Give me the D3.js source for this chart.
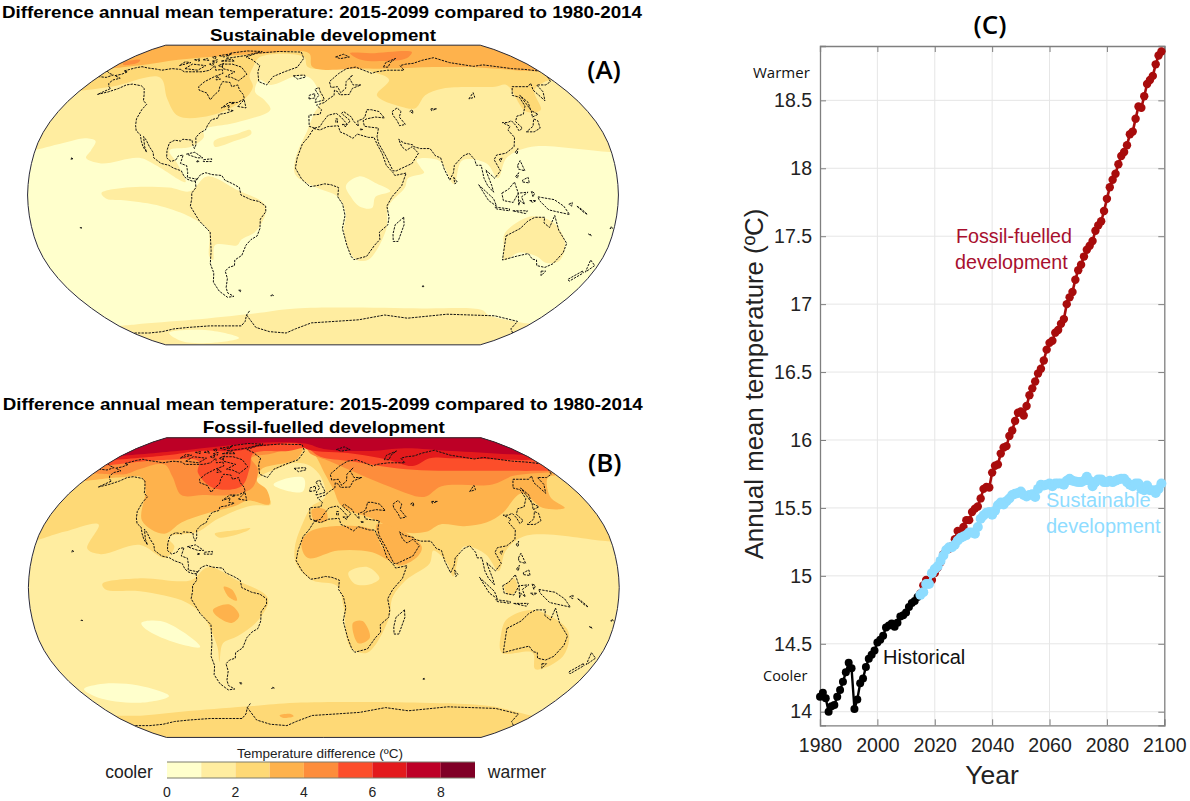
<!DOCTYPE html>
<html>
<head>
<meta charset="utf-8">
<script src="https://cdn.jsdelivr.net/npm/d3@7"></script>
<style>
  html, body { margin: 0; background: #fff; }
  text { font-family: "Liberation Sans", Arial, sans-serif; }
  .calibri { font-family: "Open Sans", sans-serif; }
</style>
</head>
<body>
<div id="chart"></div>
<script>
// ---- chart (C) series, one value per year ----
const historicalStart = 1980;
const historicalTemp = [14.11, 14.14, 14.1, 14.0, 14.04, 14.05, 14.11, 14.16, 14.22, 14.29, 14.36, 14.32, 14.02, 14.09, 14.21, 14.245, 14.33, 14.39, 14.42, 14.45, 14.51, 14.53, 14.56, 14.62, 14.635, 14.65, 14.625, 14.655, 14.7, 14.71, 14.73, 14.77, 14.8, 14.815, 14.845];
const scenarioStart = 2015;
const fossilTemp = [14.87, 14.93, 14.97, 14.96, 14.97, 15.02, 15.06, 15.1, 15.16, 15.19, 15.2, 15.22, 15.27, 15.33, 15.32, 15.36, 15.41, 15.41, 15.47, 15.495, 15.51, 15.57, 15.64, 15.655, 15.65, 15.76, 15.81, 15.82, 15.9, 15.945, 15.955, 16.03, 16.07, 16.14, 16.2, 16.21, 16.18, 16.25, 16.33, 16.38, 16.43, 16.49, 16.525, 16.585, 16.665, 16.715, 16.73, 16.79, 16.81, 16.855, 16.89, 17.0, 17.05, 17.09, 17.18, 17.25, 17.29, 17.35, 17.4, 17.43, 17.465, 17.54, 17.58, 17.61, 17.685, 17.775, 17.86, 17.915, 17.96, 18.03, 18.09, 18.12, 18.17, 18.25, 18.27, 18.365, 18.455, 18.445, 18.53, 18.62, 18.65, 18.68, 18.765, 18.83, 18.86];
const sustainableTemp = [14.86, 14.88, 14.94, 14.94, 15.02, 15.05, 15.07, 15.11, 15.15, 15.19, 15.21, 15.21, 15.23, 15.26, 15.28, 15.29, 15.3, 15.32, 15.32, 15.31, 15.36, 15.42, 15.445, 15.465, 15.47, 15.45, 15.48, 15.52, 15.54, 15.525, 15.55, 15.57, 15.595, 15.605, 15.61, 15.62, 15.595, 15.585, 15.595, 15.6, 15.58, 15.64, 15.67, 15.665, 15.67, 15.68, 15.66, 15.68, 15.68, 15.68, 15.67, 15.7, 15.715, 15.7, 15.695, 15.69, 15.69, 15.7, 15.73, 15.7, 15.66, 15.69, 15.71, 15.71, 15.69, 15.69, 15.7, 15.69, 15.7, 15.71, 15.715, 15.715, 15.69, 15.67, 15.66, 15.68, 15.68, 15.64, 15.63, 15.665, 15.63, 15.63, 15.61, 15.64, 15.68];
const yearTicks = [1980, 2000, 2020, 2040, 2060, 2080, 2100];
const tempTicks = [14, 14.5, 15, 15.5, 16, 16.5, 17, 17.5, 18, 18.5];

// ---- temperature classes shared by both maps and the legend ----
const bandColors = ["#ffffcc", "#ffeda0", "#fed976", "#feb24c", "#fd8d3c", "#fc4e2a", "#e31a1c", "#bd0026", "#800026"];
const legendTicks = [0, 2, 4, 6, 8];

// Robinson table, one row per 5 degrees of latitude
const robinsonX = [1, .9986, .9954, .99, .9822, .973, .96, .9427, .9216, .8962, .8679, .835, .7986, .7597, .7186, .6732, .6213, .5722, .5322];
const robinsonY = [0, .062, .124, .186, .248, .31, .372, .434, .4958, .5571, .6176, .6769, .7346, .7903, .8435, .8936, .9394, .9761, 1];

// ---- coastlines, lon/lat ----
const coastNorthAmerica = [[-168,65.6],[-164,66.5],[-162,68],[-166,68.5],[-160,70.5],[-156,71.3],[-150,70.5],[-141,69.7],[-135,69],[-128,70],[-120,69.5],[-115,68],[-108,68],[-100,68],[-95,69],[-94,72],[-90,69],[-85,69.5],[-82,67],[-87,65],[-92,62],[-94,59],[-92,57],[-85,55.3],[-82,53],[-80,51.5],[-79,54],[-77,56.5],[-78,59],[-78,62],[-72,61.5],[-69,59],[-65,60],[-62,57],[-58,54.5],[-56,52],[-60,50],[-66,50],[-70,47],[-65,48.5],[-65,46],[-61,45.5],[-66,44],[-70,43.5],[-70,41.5],[-74,40.5],[-75.5,37.5],[-76,35],[-79,33.5],[-81,31],[-80,27],[-80.5,25],[-82,27],[-83,29.5],[-85,29.7],[-89,30],[-90,29],[-94,29.5],[-97,28],[-97.5,24],[-97,20],[-94,18],[-91,19],[-90,21],[-87,21.5],[-88,17],[-84,15.8],[-83,12],[-83,9.5],[-80,9],[-77,8.5],[-78,7.5],[-80,7.5],[-83,8.5],[-85,10],[-87,13],[-92,14.5],[-95,16],[-100,17],[-105,20],[-106,23],[-109,26],[-112,29.5],[-114.5,31.5],[-112,26],[-110,23],[-113,26],[-115,29],[-117,32.5],[-120.5,34.5],[-122.5,37.5],[-124,41],[-124,46],[-123,49],[-127,51],[-130,54.5],[-134,58],[-138,59.5],[-146,60.5],[-150,60],[-153,58],[-158,56],[-164,54.5],[-159,58],[-162,59],[-165,61],[-165,63],[-161,64],[-168,65.6]];
const coastSouthAmerica = [[-77,8.5],[-75,11],[-72,12],[-68,11],[-62,10.5],[-60,8],[-55,6],[-51,4],[-50,0],[-44,-2.5],[-39,-3.5],[-35,-6],[-35,-9],[-38.5,-13],[-39,-18],[-41,-22],[-45,-24],[-48.5,-27],[-52,-32.5],[-57,-35],[-58,-38],[-62,-39],[-65,-41],[-65,-45],[-68,-50],[-68.5,-53],[-65,-55],[-70,-55.5],[-74,-52],[-75.5,-47],[-73,-42],[-73.5,-37],[-71,-30],[-70,-20],[-76,-14],[-81,-6],[-80,-2],[-80,1],[-77.5,4],[-78,7.5],[-77,8.5]];
const coastAfrica = [[-6,35.8],[-2,35],[3,36.8],[10,37.3],[11,34],[15,32.5],[19,30.5],[22,32.8],[29,31],[32.5,31],[34,27.5],[37,22],[39,16],[43,12],[44,10.5],[51,11.8],[48,5],[42,-1],[39,-6],[40.5,-12],[40,-16],[35,-20],[35.5,-24],[32.5,-27],[28,-33],[20,-34.8],[18,-33],[15,-27],[12,-18],[13.5,-11],[12,-5],[9,-1],[9.5,4],[5,5.5],[1,6],[-4,5],[-8,4.5],[-13,8.5],[-17,14.5],[-16,20],[-13,27.5],[-9.5,31],[-6,35.8]];
const coastEurasia = [[-5.5,36],[-9,37],[-9.5,43],[-2,43.5],[-1,46],[-4.5,48.5],[1,50],[4,52],[8,54],[8.5,57],[11,56],[12,54.3],[19,54.5],[22,58],[29,60],[23,60],[21,64],[24,66],[18,62],[17,58],[13,55.5],[11,59],[6,58.5],[5,62],[13,67],[20,70],[28,71],[40,67],[44,68],[54,69],[68,69],[67,72],[73,73],[80,73.5],[90,75.5],[104,77.5],[113,74],[130,71.5],[140,72.5],[160,70],[170,69.5],[180,68.5]];
const coastEurasiaEast = [[180,65],[177,62],[170,60],[163,60],[162,56],[157,51],[156,57],[160,61],[155,59],[143,59],[137,54],[141,53],[140,48],[135,43.5],[130,42.5],[127,39.5],[129.5,36],[126.5,34.5],[126,37.5],[124.5,40],[121.5,39],[118,39],[122,37],[119.5,35],[122,31],[120,26],[114,22.5],[108,21.5],[106,19],[109,13],[105,9],[100,13.5],[103,5],[104,1.5],[100.5,5],[98.5,9],[97.5,16],[94.5,16],[94,19],[91,22.5],[87,21],[81,16],[80,12],[77.5,8],[74.5,14],[73,20],[70,21],[67,25],[61,25],[57,26],[56.5,27],[51,28],[48,30],[49.5,26],[52,24],[56,26],[59.5,22.5],[55,17],[45,13],[43,13],[39,21],[35,28],[34.5,31.5],[36,36],[31,36.5],[27,37],[26.5,40],[29,41],[35,42],[41,41.5],[38,45],[33,46],[30,46],[28,42],[26,40.8],[23,40],[23,37],[20,40],[19,42],[14,45],[12.5,44],[18,40],[16,38],[12,42],[9,44],[3.5,43],[0,39.5],[-2,36.8],[-5.5,36]];
const coastChukotka = [[-180,68.5],[-175,67],[-170,66],[-173,64.5],[-180,65]];
const coastAntarctica = [[-58,-63.5],[-62,-66],[-66,-70],[-72,-73],[-85,-73],[-100,-73],[-120,-74],[-135,-75],[-150,-77],[-165,-78],[-180,-78]];
const coastAntarcticaEast = [[180,-78],[170,-75],[165,-70],[140,-66.5],[100,-65.5],[70,-68],[50,-66],[30,-69],[10,-70],[-10,-71],[-25,-75],[-35,-78],[-50,-77],[-60,-74],[-62,-66]];
const coastAustralia = [[114,-22],[122,-18],[126,-14],[130,-12],[136,-12],[136,-15],[140,-17.5],[142,-11],[146,-19],[153,-26],[153,-31],[150,-37],[146,-39],[140,-38],[138,-35],[135,-34.5],[131,-31.5],[124,-33],[116,-35],[115,-31],[114,-22]];
const coastIslands = [
  [[-73,78],[-66,81],[-45,82.5],[-22,82],[-18,77],[-22,71],[-32,68],[-40,65],[-43,60],[-50,62],[-54,68],[-55,72],[-65,76],[-73,78]], // Greenland
  [[-80,73],[-70,71],[-62,66.5],[-66,62.5],[-73,64.5],[-78,65],[-73,68],[-85,70],[-89,73],[-80,73]], // Baffin
  [[-117,70],[-105,69],[-102,72],[-115,73],[-117,70]],
  [[-90,77],[-75,79],[-62,82.5],[-78,83],[-92,81],[-90,77]],
  [[-125,72],[-118,74],[-124,74.5],[-125,72]],
  [[-92,75],[-80,75],[-85,76.5],[-92,75]],
  [[-100,75],[-95,74],[-97,76],[-100,75]],
  [[-110,76],[-104,75.5],[-108,77],[-110,76]],
  [[-118,76],[-112,75],[-114,76.5],[-118,76]],
  [[-100,79],[-94,78],[-90,80.5],[-100,79]],
  [[-105,78],[-100,76.5],[-102,78.5],[-105,78]],
  [[-100,73],[-96,72],[-97,74],[-100,73]],
  [[-91,72],[-87,71],[-88,73.5],[-91,72]],
  [[-85,65],[-81,63.5],[-84,63],[-85,65]],
  [[-59,47.8],[-53,47],[-56,51.5],[-59,47.8]],
  [[-64,50],[-62,49.5],[-64,49.3],[-64,50]],
  [[-24,65.5],[-15,66],[-14,64.7],[-20,63.5],[-24,65.5]],
  [[-5.5,50],[1,51.5],[0,53.5],[-2,56],[-3,58.5],[-6,57.5],[-3,54],[-5,52],[-5.5,50]],
  [[-10,52],[-6,52.5],[-6,55],[-10,54],[-10,52]],
  [[12,78],[20,80],[25,78],[16,76.8],[12,78]],
  [[52,71],[56,74],[68,77],[60,74],[56,71],[52,71]],
  [[47,45],[51,47],[53,45],[51,42],[54,38],[50,37.3],[49,40],[47,43],[47,45]], // Caspian
  [[59,45],[61,46],[61,44],[59,45]],
  [[74,46.5],[78,46.5],[74,45.5],[74,46.5]],
  [[104,52],[110,55.5],[109,53],[104,52]],
  [[131,34],[136,34],[141,36],[142,40],[140,41],[137,37],[131,34]],
  [[140,42],[145,43.5],[142,45.5],[140,42]],
  [[142,46],[144,50],[142.5,54],[142,50],[142,46]],
  [[120,23],[122,25],[121,22],[120,23]],
  [[109,19],[111,20],[110,18],[109,19]],
  [[120,16],[122,18.5],[124,13],[120,14],[120,16]],
  [[122,7],[126,6.5],[125.5,9.5],[122,8],[122,7]],
  [[118,10],[120,12],[119,9],[118,10]],
  [[95,5.5],[104,-2],[106,-6],[101,-3],[95,5.5]],
  [[105,-6.5],[114,-7.5],[114,-8.5],[106,-7.5],[105,-6.5]],
  [[116,-8.5],[125,-8.5],[124,-10],[116,-8.5]],
  [[109,1],[113,3],[117,7],[119,1],[116,-4],[110,-3],[109,1]],
  [[119.5,-5.5],[119,1],[125,1.5],[121,-1],[123,-5],[120,-3],[119.5,-5.5]],
  [[127,2],[128,-1],[129,1],[127,2]],
  [[126,-3],[130,-3],[128,-4],[126,-3]],
  [[131,-1],[141,-2.5],[147,-6],[151,-10.5],[143,-9],[138,-8],[132,-3],[131,-1]],
  [[150,-5],[152,-4],[152,-6],[150,-5]],
  [[155,-6],[157,-7],[160,-9],[162,-10.5],[159,-9],[155,-6]],
  [[80,9.5],[82,7],[80.5,6],[80,9.5]],
  [[49.5,-12],[50,-16],[47,-25],[44,-25],[43.5,-21],[44.5,-16],[49.5,-12]],
  [[145,-41],[148,-41],[147,-43.5],[145,-41]],
  [[173,-35],[178,-38],[175,-41.5],[174,-39],[173,-35]],
  [[172.5,-41],[174,-42],[169,-46.5],[167,-45.5],[172.5,-41]],
  [[-85,22],[-80,23],[-74.5,20],[-78,20],[-85,22]],
  [[-74,19],[-69,19.5],[-69,18],[-74,18],[-74,19]],
  [[-78,18.5],[-76.5,18],[-78,17.8],[-78,18.5]],
  [[12.5,38],[15.5,38],[15,36.7],[12.5,38]],
  [[8.5,41],[9.7,41],[9.5,39],[8.5,39],[8.5,41]],
  [[24,35.5],[26,35.3],[24,35],[24,35.5]],
  [[-60,-51.5],[-58,-51.5],[-59,-52.3],[-60,-51.5]],
  [[-156,20],[-155,19.5],[-156,19],[-156,20]],
  [[166,-21],[167,-22],[165,-21],[166,-21]],
  [[178,-17],[179,-18],[177.5,-18],[178,-17]],
  [[-150,-17.5],[-149,-17.7],[-150,-18],[-150,-17.5]],
  [[70,-49],[70.5,-49.5],[69,-49.5],[70,-49]],
  [[-37,-54],[-36,-54.5],[-38,-54.7],[-37,-54]]
];
const coasts = [coastNorthAmerica, coastSouthAmerica, coastAfrica, coastEurasia, coastEurasiaEast, coastChukotka, coastAntarctica, coastAntarcticaEast, coastAustralia, ...coastIslands];

// ---- contour patches, [class, [lon, lat]...], lowest class painted first ----
// the northern ones are closed round the pole by northCap, the southern by southCap
const sustainableNorth = [
  [1, [[-180,24],[-164,28],[-151,30.5],[-144,29],[-145,24],[-147,20],[-137,17],[-114,20],[-103,16],[-84,7],[-90,17],[-96,24],[-83,26],[-76,31],[-77,35],[-57,39],[-36,46],[-41,51],[-50,56],[-50,63],[-40,60],[-22,65],[-10,64],[-1.5,51],[-6,44],[-10,35],[-17,20],[-17,11],[-4,4],[9,-1],[14,-10],[13,-20],[20,-34],[29,-35],[39,-19],[40,-6],[50,4],[52,9],[62,12],[60,15],[58,19],[72,18.5],[80,6],[86,18.5],[101,17],[107,9],[114,20],[131,26],[180,24]]],
  [2, [[-180,57],[-160,59],[-130,64.5],[-111,52],[-97,42.5],[-75,43],[-57,51],[-53,59],[-59,65],[-60,71],[-60,78],[-18,78],[-13,71],[30,70],[41,68],[52,63],[39,54],[57,47],[64,47],[74,54],[90,58],[130,59],[140,60],[138,45],[149,46],[157,57],[178,63],[180,63]]],
  [3, [[-180,70],[-161,72],[-133,76],[-107,78],[-67,80],[-14,81],[-9,71],[32,70],[58,70],[94,71],[124,71],[180,69]]]
];
const sustainablePatches = [
  [0, [[22,10],[14,5],[17,-1],[22,-6],[30,-7],[32,-1],[41,2],[33,6]]],
  [1, [[-69,29],[-55,33],[-47,35],[-46,33],[-56,29],[-68,26]]],
  [1, [[-135,1],[-120,4],[-94,4],[-81,2],[-71,10],[-53,3],[-35,-6],[-41,-19],[-51,-24],[-54,-27],[-68,-27],[-71,-35],[-73,-33],[-71,-19],[-81,-12],[-99,-6],[-120,-3],[-132,-2]]],
  [1, [[114,-28],[113,-20.5],[128,-11.5],[142,-15],[152,-26],[153,-35.5],[145,-36.5],[137,-33],[125,-31],[117,-35]]],
  [4, [[-178,74],[-168,76],[-165,74],[-175,72.5]]],
  [4, [[27,81],[48,81],[90,82],[78,77],[55,75],[35,76]]]
];
const sustainableSouth = [
  [1, [[-180,-74],[-163,-72],[-110,-69],[-55,-65],[-21,-62],[77,-62],[125,-63],[134,-66],[172,-71],[180,-72]]]
];
const sustainablePale = [
  [0, [[-146,-78],[-106,-76],[-85,-82],[-120,-87],[-150,-85]]]
];
const fossilNorth = [
  [2, [[-180,24.5],[-165,30],[-145,34],[-147,21],[-138,18],[-115,23],[-98,16],[-93,22],[-98,27],[-80,30],[-69,37],[-50,44],[-36,45],[-41,51],[-52,56],[-47,62],[-38,65],[-24,69],[-11,67],[-2,60],[1,49],[-8,44],[-13,36],[-18,22],[-17,13],[-7,4],[8,1],[12,-10],[17,-32],[28,-35],[40,-17],[42,-5],[50,4],[65,13],[68,20],[76,13],[79,6],[87,22],[100,18],[107,9],[113,20],[128,28],[178,25],[180,25]]],
  [3, [[-180,58],[-157,60],[-139,60],[-128,53],[-118,36],[-101,29],[-92,35],[-77,40],[-60,44],[-52,47],[-37,45],[-41,53],[-50,58],[-50,65],[-24,71],[-18,79],[-10,76],[1,62],[7,53],[12,44],[32,37],[49,30],[65,30],[75,34],[90,33],[105,35],[118,40],[140,51],[147,43],[162,43],[158,49],[171,60],[180,62]]],
  [4, [[-180,64],[-155,62],[-148,65],[-132,68],[-116,60.5],[-100,50],[-85,50],[-67,50],[-52,54],[-53,65],[-63,72],[-48,75],[-19,80],[-12,75],[5,70],[22,64],[50,54],[70,49],[86,55],[124,56],[146,61],[176,63],[180,63.5]]],
  [5, [[-180,67],[-152,70],[-132,71],[-106,70],[-99,63],[-80,54],[-60,55],[-60,66],[-64,75],[-33,77],[-17,79],[-3,73],[23,70],[66,65],[149,64],[178,64],[180,64]]],
  [6, [[-180,71],[-140,74],[-116,77],[-82,77],[-64,80],[-27,83],[-15,78],[27,75],[55,71],[73,67],[92,72],[110,72],[180,72]]],
  [7, [[-180,74],[-137,77],[-98,81],[-59,84],[-19,83],[0,78.5],[44,77],[78,79],[120,77],[180,75]]]
];
const fossilPatches = [
  [0, [[-37,56],[-25,60],[-15,59.5],[-15,52],[-29,53]]],
  [0, [[-113,-19],[-101,-18],[-87,-24.5],[-79,-32],[-93,-30],[-110,-23]]],
  [0, [[-175,-55],[-157,-52],[-133,-53],[-117,-59],[-144,-63],[-172,-60]]],
  [2, [[-69,29],[-55,31],[-47,32],[-50,30],[-66,27]]],
  [2, [[-135,2],[-112,5],[-81,4],[-71,11],[-53,4],[-34,-6],[-41,-18],[-54,-26],[-64,-30],[-69,-40],[-68,-32],[-74,-16],[-84,-8],[-112,-2],[-133,-1]]],
  [1, [[15,8],[27,11],[34,5],[29,2],[19,2]]],
  [2, [[110,0.5],[116,5],[118,-1],[113,-4]]],
  [2, [[111,-24],[113,-17],[127,-12],[141,-16],[153,-24],[156,-37],[143,-44],[135,-35],[115,-35]]],
  [3, [[-8,42],[1,42],[2,36],[-6,36]]],
  [3, [[-14,24],[-9,30],[6,33],[31,31],[36,22],[42,14],[30,19],[9,20],[-10,16]]],
  [3, [[34,34],[49,31],[61,22],[57,16],[45,12],[36,23]]],
  [3, [[-61,0.5],[-56,-1],[-53,-7],[-58,-5]]],
  [3, [[-68,-12],[-58,-9],[-52,-15],[-57,-19],[-65,-16]]],
  [3, [[18,-19],[24,-18],[29,-27],[22,-30]]],
  [3, [[-38,-71],[-28,-70],[-26,-71.5],[-36,-72.5]]]
];
const fossilSouth = [
  [2, [[-180,-72],[-155,-71],[-110,-68],[-57,-65],[-22,-63],[77,-63],[133,-65],[178,-71],[180,-72]]]
];

// ---- layout ----
const width = 1190;
const height = 801;
const mapScale = 110.8;
const titleLine = "Difference annual mean temperature: 2015-2099 compared to 1980-2014";

const svg = d3.select("#chart").append("svg")
  .attr("width", width)
  .attr("height", height)
  .attr("viewBox", [0, 0, width, height])
  .style("display", "block");

// Robinson is not in plain d3-geo, so it goes through d3.geoProjection
function robinsonRaw(lambda, phi) {
  const deg = Math.min(Math.abs(phi) * 180 / Math.PI, 90);
  const i = Math.min(Math.floor(deg / 5), 17);
  const t = (deg - i * 5) / 5;
  const xf = robinsonX[i] + (robinsonX[i + 1] - robinsonX[i]) * t;
  const yf = robinsonY[i] + (robinsonY[i + 1] - robinsonY[i]) * t;
  return [0.8487 * xf * lambda, 1.3523 * yf * (phi < 0 ? -1 : 1)];
}

// add the rim of the map from the last point round the pole to the first one
function northCap(pts) {
  const a = pts[pts.length - 1][1], b = pts[0][1];
  return pts.concat(
    d3.range(a + 4, 90, 4).map((lat) => [180, lat]),
    [[180, 90], [-180, 90]],
    d3.range(88, b, -4).map((lat) => [-180, lat])
  );
}
function southCap(pts) {
  const a = pts[pts.length - 1][1], b = pts[0][1];
  return pts.concat(
    d3.range(a - 4, -90, -4).map((lat) => [180, lat]),
    [[180, -90], [-180, -90]],
    d3.range(-88, b, 4).map((lat) => [-180, lat])
  );
}

function drawMap(id, cx, cy, title2, title2Width, label, labelY, patches) {
  const projection = d3.geoProjection(robinsonRaw)
    .scale(mapScale)
    .translate([cx, cy])
    .precision(0.3);
  const outline = d3.geoPath(projection)({ type: "Sphere" });

  // rim points are pushed outwards so the smooth curve never leaves a gap, the clip cuts them
  const place = (p) => {
    const [x, y] = projection(p);
    const dx = p[0] === 180 ? 10 : p[0] === -180 ? -10 : 0;
    const dy = p[1] === 90 ? -10 : p[1] === -90 ? 10 : 0;
    return [x + dx, y + dy];
  };
  const contour = d3.line().curve(d3.curveCatmullRomClosed.alpha(0.5));
  const coast = d3.line();

  svg.append("clipPath").attr("id", id).append("path").attr("d", outline);

  const map = svg.append("g").attr("clip-path", `url(#${id})`);
  map.append("path").attr("d", outline).attr("fill", bandColors[patches.base]);

  map.selectAll("path.band")
    .data(patches.list)
    .join("path")
    .attr("class", "band")
    .attr("fill", (d) => bandColors[d[0]])
    .attr("d", (d) => contour(d[1].map(place)));

  map.selectAll("path.coast")
    .data(coasts)
    .join("path")
    .attr("class", "coast")
    .attr("fill", "none")
    .attr("stroke", "#111")
    .attr("stroke-width", 1)
    .attr("stroke-dasharray", "2.4 1.1")
    .attr("d", (d) => coast(d.map((p) => projection(p))));

  svg.append("path")
    .attr("d", outline)
    .attr("fill", "none")
    .attr("stroke", "#2a2a3a")
    .attr("stroke-width", 1);

  svg.append("text")
    .attr("x", cx - 1).attr("y", cy - 177.5)
    .attr("text-anchor", "middle")
    .attr("font-size", 17).attr("font-weight", "bold")
    .attr("textLength", 640).attr("lengthAdjust", "spacingAndGlyphs")
    .text(titleLine);
  svg.append("text")
    .attr("x", cx).attr("y", cy - 154.5)
    .attr("text-anchor", "middle")
    .attr("font-size", 17).attr("font-weight", "bold")
    .attr("textLength", title2Width).attr("lengthAdjust", "spacingAndGlyphs")
    .text(title2);
  svg.append("text")
    .attr("class", "calibri")
    .attr("x", cx + 281).attr("y", labelY)
    .attr("text-anchor", "middle")
    .attr("font-size", 26).attr("font-weight", 600)
    .text(label);
}

const paintNorth = (rows) => rows.map(([c, pts]) => [c, northCap(pts)]);
const paintSouth = (rows) => rows.map(([c, pts]) => [c, southCap(pts)]);

drawMap("clip-a", 323, 195, "Sustainable development", 226, "(A)", 79, {
  base: 0,
  list: [
    ...paintNorth(sustainableNorth.slice(0, 1)),
    ...paintSouth(sustainableSouth),
    ...sustainablePatches.slice(0, 4),
    ...sustainablePale,
    ...paintNorth(sustainableNorth.slice(1)),
    ...sustainablePatches.slice(4)
  ]
});
drawMap("clip-b", 323.8, 587.6, "Fossil-fuelled development", 242, "(B)", 472, {
  base: 1,
  list: [
    ...paintNorth(fossilNorth.slice(0, 1)),
    ...paintSouth(fossilSouth),
    ...fossilPatches.slice(0, 8),
    ...paintNorth(fossilNorth.slice(1, 2)),
    ...fossilPatches.slice(8),
    ...paintNorth(fossilNorth.slice(2))
  ]
});

// ---- colour bar ----
const legendX = d3.scaleLinear().domain([0, 9]).range([167, 475]);
svg.append("g")
  .selectAll("rect")
  .data(bandColors)
  .join("rect")
  .attr("x", (d, i) => legendX(i))
  .attr("y", 762)
  .attr("width", (d, i) => legendX(i + 1) - legendX(i))
  .attr("height", 16)
  .attr("fill", (d) => d);
svg.append("g")
  .attr("stroke", "#7c7c6c")
  .selectAll("line")
  .data([762, 778])
  .join("line")
  .attr("x1", legendX(0)).attr("x2", legendX(9))
  .attr("y1", (d) => d).attr("y2", (d) => d);
svg.append("g")
  .attr("font-size", 14).attr("fill", "#222").attr("text-anchor", "middle")
  .selectAll("text")
  .data(legendTicks)
  .join("text")
  .attr("x", (d) => legendX(d))
  .attr("y", 797)
  .text((d) => d);
svg.append("text").attr("x", 320).attr("y", 758).attr("text-anchor", "middle")
  .attr("font-size", 13.5).attr("fill", "#222").text("Temperature difference (ºC)");
svg.append("text").attr("x", 129).attr("y", 778).attr("text-anchor", "middle")
  .attr("font-size", 17.5).attr("fill", "#222").text("cooler");
svg.append("text").attr("x", 517).attr("y", 778).attr("text-anchor", "middle")
  .attr("font-size", 17.5).attr("fill", "#222").text("warmer");

// ---- chart (C) ----
const x = d3.scaleLinear().domain([1980, 2100]).range([820, 1164.3]);
const y = d3.scaleLinear().domain([13.9, 18.9]).range([725.3, 46]);

const axisColor = "#7f7f7f";
const grid = svg.append("g").attr("stroke", "#e6e6e6");
grid.selectAll("line.v").data(yearTicks.slice(1, -1)).join("line")
  .attr("class", "v")
  .attr("x1", (d) => x(d)).attr("x2", (d) => x(d))
  .attr("y1", y.range()[1]).attr("y2", y.range()[0]);
grid.selectAll("line.h").data(tempTicks).join("line")
  .attr("class", "h")
  .attr("x1", x.range()[0]).attr("x2", x.range()[1])
  .attr("y1", (d) => y(d)).attr("y2", (d) => y(d));

const styleAxis = (g) => {
  g.selectAll(".domain").attr("stroke", axisColor).attr("stroke-width", 1.3);
  g.selectAll(".tick line").attr("stroke", axisColor);
  g.selectAll(".tick text").attr("fill", "#222").attr("font-size", 19.5)
    .attr("font-family", '"Liberation Sans", Arial, sans-serif');
};
svg.append("g")
  .attr("transform", `translate(0,${y.range()[0]})`)
  .call(d3.axisBottom(x).tickValues(yearTicks).tickFormat(d3.format("d")).tickSize(-6).tickPadding(13))
  .call(styleAxis);
svg.append("g")
  .attr("transform", `translate(0,${y.range()[1]})`)
  .call(d3.axisTop(x).tickValues(yearTicks).tickFormat("").tickSize(-6))
  .call(styleAxis);
svg.append("g")
  .attr("transform", `translate(${x.range()[0]},0)`)
  .call(d3.axisLeft(y).tickValues(tempTicks).tickFormat((d) => d).tickSize(-6).tickPadding(8))
  .call(styleAxis);
svg.append("g")
  .attr("transform", `translate(${x.range()[1]},0)`)
  .call(d3.axisRight(y).tickValues(tempTicks).tickFormat("").tickSize(-6))
  .call(styleAxis);

const line = d3.line().x((d) => x(d[0])).y((d) => y(d[1]));
const series = [
  { values: historicalTemp, start: historicalStart, color: "#000", r: 4, w: 2.4 },
  { values: fossilTemp, start: scenarioStart, color: "#a80c0c", r: 4.2, w: 2.6 },
  { values: sustainableTemp, start: scenarioStart, color: "#8edcff", r: 5, w: 3 }
];
series.forEach((s) => {
  const pts = s.values.map((v, i) => [s.start + i, v]);
  svg.append("path").attr("d", line(pts)).attr("fill", "none")
    .attr("stroke", s.color).attr("stroke-width", s.w);
  svg.append("g").attr("fill", s.color)
    .selectAll("circle").data(pts).join("circle")
    .attr("cx", (d) => x(d[0])).attr("cy", (d) => y(d[1])).attr("r", s.r);
});

// labels of chart (C)
const labelText = (tx, ty, text, size, color, cls) =>
  svg.append("text").attr("class", cls || null).attr("x", tx).attr("y", ty)
    .attr("font-size", size).attr("fill", color).text(text);
labelText(956, 243, "Fossil-fuelled", 19.7, "#a80f2e");
labelText(955, 269, "development", 19.7, "#a80f2e");
labelText(1046, 507, "Sustainable", 20, "#8edcff");
labelText(1046, 533, "development", 20, "#8edcff");
labelText(883, 664, "Historical", 20, "#111");
labelText(763, 681, "Cooler", 14.5, "#111", "calibri");
labelText(753, 78, "Warmer", 15, "#111", "calibri");
svg.append("text").attr("class", "calibri").attr("x", 990).attr("y", 34)
  .attr("text-anchor", "middle").attr("font-size", 26).attr("font-weight", 600).text("(C)");
svg.append("text").attr("x", 992).attr("y", 784)
  .attr("text-anchor", "middle").attr("font-size", 26.5).attr("fill", "#222").text("Year");
svg.append("text")
  .attr("transform", "translate(763,384) rotate(-90)")
  .attr("text-anchor", "middle").attr("font-size", 25.8).attr("fill", "#222")
  .text("Annual mean temperature (ºC)");
</script>
</body>
</html>
